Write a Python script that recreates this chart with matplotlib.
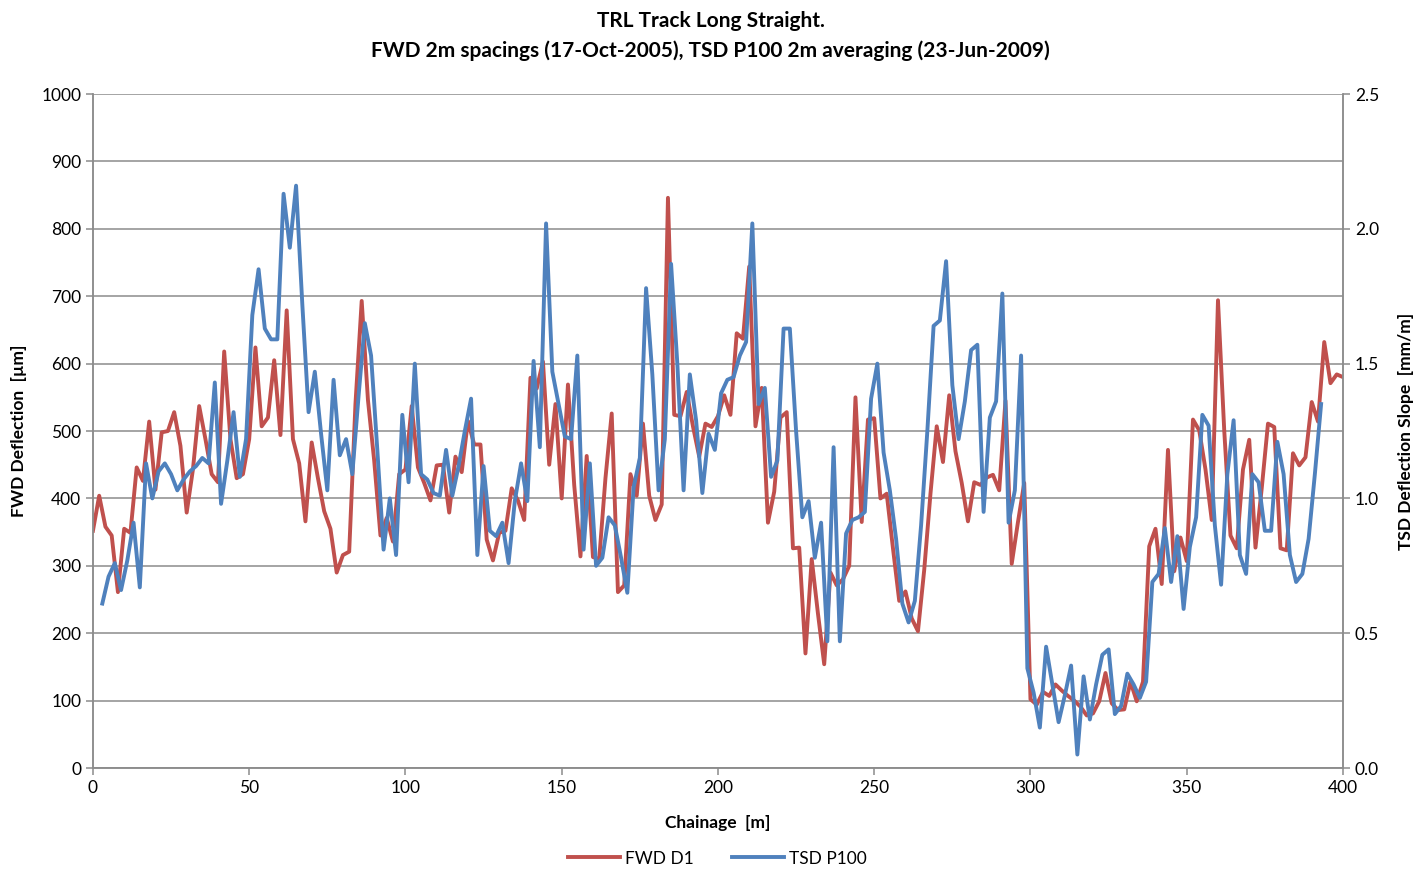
import numpy as np
import matplotlib.pyplot as plt
from matplotlib.ticker import FormatStrFormatter

# FWD D1 deflection [um], every 2 m from 0 to 400 m
fwd_chainage = np.arange(0, 401, 2)
fwd_d1 = [
    352, 404, 358, 345, 261, 355, 349, 446, 426, 514,
    413, 498, 500, 528, 478, 379, 443, 537, 488, 436,
    424, 618, 488, 430, 436, 488, 624, 507, 520, 605,
    494, 679, 488, 452, 366, 483, 430, 381, 355, 290,
    316, 321, 540, 693, 546, 456, 345, 371, 336, 436,
    443, 537, 446, 423, 397, 449, 450, 379, 462, 439,
    515, 480, 480, 339, 308, 349, 352, 415, 397, 368,
    579, 563, 603, 450, 540, 400, 569, 420, 314, 463,
    313, 310, 430, 526, 261, 271, 436, 404, 511, 404,
    368, 391, 846, 524, 522, 558, 507, 462, 511, 506,
    522, 553, 524, 645, 637, 744, 507, 564, 364, 410,
    520, 528, 326, 327, 170, 310, 229, 154, 290, 271,
    280, 300, 550, 365, 517, 519, 400, 407, 326, 248,
    262, 222, 203, 294, 407, 507, 454, 553, 470, 423,
    366, 424, 420, 431, 435, 412, 545, 303, 365, 423,
    102, 94, 113, 107, 124, 115, 107, 100, 91, 78,
    81, 99, 141, 96, 86, 87, 128, 99, 128, 329,
    355, 273, 472, 292, 342, 307, 517, 501, 443, 368,
    694, 501, 345, 326, 443, 487, 327, 415, 511, 506,
    326, 323, 467, 449, 461, 543, 514, 632, 571, 584,
    580,
]

# TSD P100 deflection slope [mm/m], 2 m averages centred on odd chainages
tsd_chainage = np.arange(3, 394, 2)
tsd_p100 = [
    0.61, 0.71, 0.76, 0.66, 0.77, 0.91, 0.67, 1.13, 1.00, 1.10,
    1.13, 1.09, 1.03, 1.07, 1.10, 1.12, 1.15, 1.13, 1.43, 0.98,
    1.14, 1.32, 1.08, 1.22, 1.68, 1.85, 1.63, 1.59, 1.59, 2.13,
    1.93, 2.16, 1.72, 1.32, 1.47, 1.24, 1.03, 1.44, 1.16, 1.22,
    1.09, 1.38, 1.65, 1.53, 1.18, 0.81, 1.00, 0.79, 1.31, 1.06,
    1.50, 1.09, 1.07, 1.02, 1.01, 1.18, 1.01, 1.12, 1.25, 1.37,
    0.79, 1.12, 0.88, 0.86, 0.91, 0.76, 0.99, 1.13, 0.99, 1.51,
    1.19, 2.02, 1.47, 1.35, 1.23, 1.22, 1.53, 0.81, 1.13, 0.75,
    0.78, 0.93, 0.90, 0.78, 0.65, 1.04, 1.15, 1.78, 1.46, 1.03,
    1.22, 1.87, 1.50, 1.03, 1.46, 1.29, 1.02, 1.24, 1.18, 1.39,
    1.44, 1.45, 1.53, 1.58, 2.02, 1.35, 1.41, 1.08, 1.14, 1.63,
    1.63, 1.25, 0.93, 0.99, 0.78, 0.91, 0.47, 1.19, 0.47, 0.87,
    0.92, 0.93, 0.95, 1.37, 1.50, 1.17, 1.03, 0.85, 0.61, 0.54,
    0.62, 0.90, 1.25, 1.64, 1.66, 1.88, 1.42, 1.22, 1.36, 1.55,
    1.57, 0.95, 1.30, 1.36, 1.76, 0.91, 1.03, 1.53, 0.37, 0.28,
    0.15, 0.45, 0.31, 0.17, 0.27, 0.38, 0.05, 0.34, 0.18, 0.31,
    0.42, 0.44, 0.20, 0.23, 0.35, 0.31, 0.26, 0.32, 0.69, 0.72,
    0.89, 0.69, 0.86, 0.59, 0.82, 0.93, 1.31, 1.27, 0.90, 0.68,
    1.09, 1.29, 0.79, 0.72, 1.09, 1.06, 0.88, 0.88, 1.21, 1.09,
    0.79, 0.69, 0.72, 0.85, 1.09, 1.35,
]

plt.rcParams['font.family'] = ['Lato', 'DejaVu Sans']
red = '#C0504D'
blue = '#4F81BD'
grey = '#8C8C8C'

fig = plt.figure(figsize=(14.21, 8.69), dpi=100)
ax = fig.add_axes([0.0654, 0.1162, 0.8797, 0.7756])
ax2 = ax.twinx()

l1, = ax.plot(fwd_chainage, fwd_d1, color=red, lw=2.8, label='FWD D1',
              solid_joinstyle='round')
l2, = ax2.plot(tsd_chainage, tsd_p100, color=blue, lw=2.8, label='TSD P100',
               solid_joinstyle='round')

ax.set_xlim(0, 400)
ax.set_ylim(0, 1000)
ax2.set_ylim(0, 2.5)
ax.set_xticks(np.arange(0, 401, 50))
ax.set_yticks(np.arange(0, 1001, 100))
ax2.set_yticks(np.arange(0, 2.51, 0.5))
ax2.yaxis.set_major_formatter(FormatStrFormatter('%.1f'))

ax.grid(axis='y', color=grey, lw=1.1)
ax.set_axisbelow(True)
for a in (ax, ax2):
    for side in ('left', 'right', 'bottom'):
        a.spines[side].set_color(grey)
        a.spines[side].set_linewidth(1.1)
    a.spines['top'].set_visible(False)
    a.tick_params(colors=grey, labelcolor='black', labelsize=12.5,
                  direction='out', length=5, width=1.1)

ax.set_xlabel('Chainage  [m]', fontsize=12.5, fontweight='bold', labelpad=14)
ax.set_ylabel('FWD Deflection  [µm]', fontsize=12.5, fontweight='bold', labelpad=10)
ax2.set_ylabel('TSD Deflection Slope  [mm/m]', fontsize=12.5, fontweight='bold',
               labelpad=14)

fig.suptitle('TRL Track Long Straight.\nFWD 2m spacings (17-Oct-2005), '
             'TSD P100 2m averaging (23-Jun-2009)',
             fontsize=15, fontweight='bold', y=0.987, linespacing=1.55)

fig.legend(handles=[l1, l2], loc='center', bbox_to_anchor=(0.505, 0.012),
           ncol=2, frameon=False, fontsize=12.5, handlelength=3,
           columnspacing=2.2, handletextpad=0.3)

fig.savefig('out.png', dpi=100)
